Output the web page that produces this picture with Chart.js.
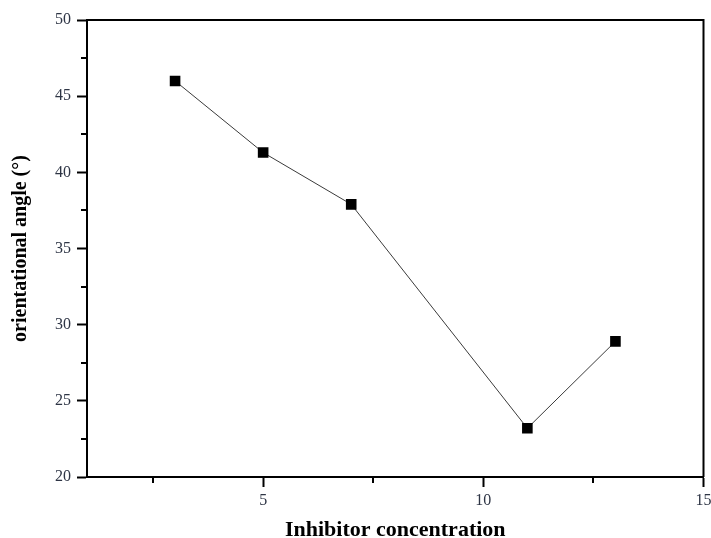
<!DOCTYPE html>
<html>
<head>
<meta charset="utf-8">
<script src="https://cdn.jsdelivr.net/npm/chart.js@4"></script>
<style>
  html, body { margin: 0; padding: 0; background: #fff; }
  #wrap { width: 711px; height: 538px; position: relative; }
</style>
</head>
<body>
<div id="wrap"><canvas id="c" width="711" height="538"></canvas></div>
<script>
const concentrations = [3, 5, 7, 11, 13];
const angles = [46.0, 41.3, 37.9, 23.2, 28.9];
const xTicks = [2.5, 5, 7.5, 10, 12.5, 15];
const xLabelled = [5, 10, 15];
const yTicks = [20, 22.5, 25, 27.5, 30, 32.5, 35, 37.5, 40, 42.5, 45, 47.5, 50];
const yLabelled = [20, 25, 30, 35, 40, 45, 50];
const xTitle = 'Inhibitor concentration';
const yTitle = 'orientational angle (°)';

const serif = "'Liberation Serif', 'DejaVu Serif', serif";
const tickColor = '#2e3545';

const minorTicks = {
  id: 'minorTicks',
  afterDraw(chart) {
    const ctx = chart.ctx;
    const a = chart.chartArea;
    ctx.save();
    ctx.strokeStyle = '#000';
    ctx.lineWidth = 2;
    // frame top and right
    ctx.beginPath();
    ctx.moveTo(a.left, a.top);
    ctx.lineTo(a.right, a.top);
    ctx.lineTo(a.right, a.bottom);
    ctx.stroke();
    // minor ticks
    const xs = chart.scales.x, ys = chart.scales.y;
    ctx.beginPath();
    xTicks.filter(v => !xLabelled.includes(v)).forEach(v => {
      const px = Math.round(xs.getPixelForValue(v));
      ctx.moveTo(px, a.bottom);
      ctx.lineTo(px, a.bottom + 6);
    });
    yTicks.filter(v => !yLabelled.includes(v)).forEach(v => {
      const py = Math.round(ys.getPixelForValue(v));
      ctx.moveTo(a.left, py);
      ctx.lineTo(a.left - 6, py);
    });
    ctx.stroke();
    ctx.restore();
  }
};

new Chart(document.getElementById('c'), {
  type: 'scatter',
  data: {
    datasets: [{
      data: concentrations.map((x, i) => ({ x: x, y: angles[i] })),
      showLine: true,
      borderColor: '#3a3a3a',
      borderWidth: 1,
      pointStyle: 'rect',
      pointRadius: 7.5,
      pointHoverRadius: 7.5,
      pointBackgroundColor: '#000',
      pointBorderColor: '#000',
      pointBorderWidth: 0
    }]
  },
  plugins: [minorTicks],
  options: {
    responsive: false,
    animation: false,
    events: [],
    layout: { padding: { top: 20, right: 6, left: 0, bottom: 0 } },
    plugins: { legend: { display: false }, tooltip: { enabled: false } },
    scales: {
      x: {
        type: 'linear',
        min: 1, max: 15,
        afterBuildTicks: s => { s.ticks = xTicks.map(v => ({ value: v })); },
        afterFit: s => { s.height = 61; s.paddingLeft = 0; s.paddingRight = 0; },
        grid: {
          drawOnChartArea: false,
          tickLength: 10,
          tickWidth: 2,
          tickColor: ctx => (ctx.tick && xLabelled.includes(ctx.tick.value)) ? '#000' : 'rgba(0,0,0,0)'
        },
        border: { display: true, color: '#000', width: 2 },
        ticks: {
          autoSkip: false,
          maxRotation: 0,
          padding: 4,
          color: tickColor,
          font: { family: serif, size: 16 },
          callback: v => xLabelled.includes(v) ? String(v) : ''
        },
        title: {
          display: true,
          text: xTitle,
          color: '#000',
          font: { family: serif, size: 22, weight: 'bold', lineHeight: 1 },
          padding: { top: 0, bottom: -3 }
        }
      },
      y: {
        type: 'linear',
        min: 20, max: 50,
        afterBuildTicks: s => { s.ticks = yTicks.map(v => ({ value: v })); },
        afterFit: s => { s.width = 87; s.paddingTop = 0; s.paddingBottom = 0; },
        grid: {
          drawOnChartArea: false,
          tickLength: 10,
          tickWidth: 2,
          tickColor: ctx => (ctx.tick && yLabelled.includes(ctx.tick.value)) ? '#000' : 'rgba(0,0,0,0)'
        },
        border: { display: true, color: '#000', width: 2 },
        ticks: {
          autoSkip: false,
          padding: 6,
          color: tickColor,
          font: { family: serif, size: 16 },
          callback: v => yLabelled.includes(v) ? String(v) : ''
        },
        title: {
          display: true,
          text: yTitle,
          color: '#000',
          font: { family: serif, size: 20, weight: 'bold', lineHeight: 1 },
          padding: { top: 11, bottom: 0 }
        }
      }
    }
  }
});
</script>
</body>
</html>
